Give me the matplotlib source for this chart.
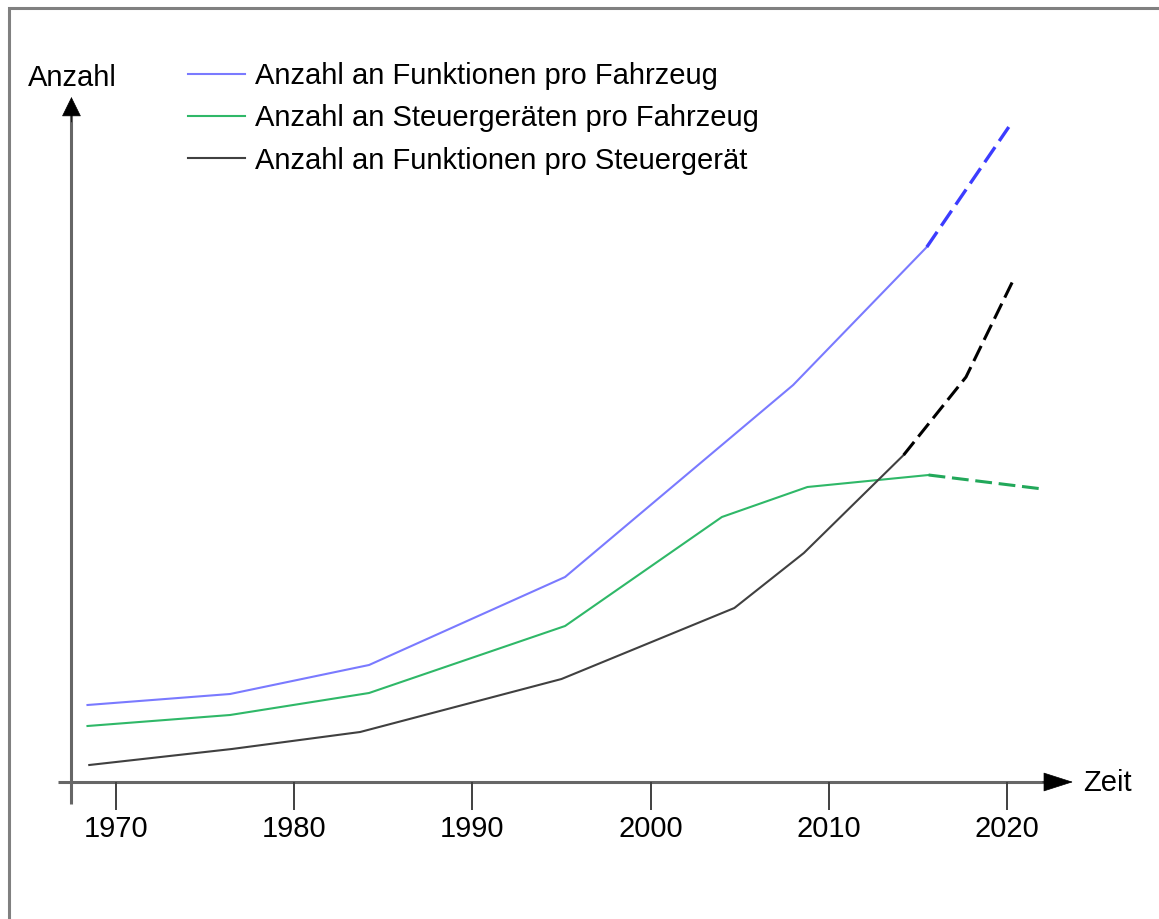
import matplotlib
matplotlib.use("Agg")
import matplotlib.pyplot as plt
from matplotlib.patches import Rectangle

plt.rcParams.update({"font.family": ["Liberation Sans", "DejaVu Sans"]})

# Anzahl an Funktionen pro Fahrzeug
blue_years = [1968.4, 1976.4, 1984.2, 1995.2, 2008.0, 2015.5]
blue_vals = [7.7, 8.8, 11.7, 20.5, 39.7, 53.5]
blue_fc_years = [2015.5, 2020.1]
blue_fc_vals = [53.5, 65.5]

# Anzahl an Steuergeräten pro Fahrzeug
green_years = [1968.4, 1976.4, 1984.2, 1995.2, 2004.0, 2008.8, 2015.6]
green_vals = [5.6, 6.7, 8.9, 15.6, 26.5, 29.5, 30.7]
green_fc_years = [2015.6, 2022.0]
green_fc_vals = [30.7, 29.3]

# Anzahl an Funktionen pro Steuergerät
black_years = [1968.5, 1976.5, 1983.7, 1995.0, 2004.7, 2008.6, 2014.2]
black_vals = [1.7, 3.3, 5.0, 10.3, 17.4, 22.9, 32.7]
black_fc_years = [2014.2, 2017.7, 2020.3]
black_fc_vals = [32.7, 40.5, 50.0]

tick_years = [1970, 1980, 1990, 2000, 2010, 2020]
labels = [
    "Anzahl an Funktionen pro Fahrzeug",
    "Anzahl an Steuergeräten pro Fahrzeug",
    "Anzahl an Funktionen pro Steuergerät",
]

fig = plt.figure(figsize=(11.59, 9.19), dpi=100)
ax = fig.add_axes([0, 0, 1, 1])
ax.set_xlim(1963.49, 2028.53)
ax.set_ylim(-13.7, 78.2)
ax.axis("off")

# frame around the picture
fig.patches.append(
    Rectangle((9 / 1159, -0.1), 1.2, (919 - 8) / 919 + 0.1,
              transform=fig.transFigure, fill=False, ec="#808080", lw=2.2)
)

fs = 21
dash = (0, (5.5, 2.2))

l1, = ax.plot(blue_years, blue_vals, color="#7a7aff", lw=1.5, label=labels[0])
ax.plot(blue_fc_years, blue_fc_vals, color="#3c3cff", lw=2.4, linestyle=dash)
l2, = ax.plot(green_years, green_vals, color="#2fb868", lw=1.5, label=labels[1])
ax.plot(green_fc_years, green_fc_vals, color="#22a85a", lw=2.2, linestyle=dash)
l3, = ax.plot(black_years, black_vals, color="#404040", lw=1.5, label=labels[2])
ax.plot(black_fc_years, black_fc_vals, color="black", lw=2.2, linestyle=dash)

# axes with arrows
ax.plot([1966.75, 2022.5], [0, 0], color="#666666", lw=2.2, solid_capstyle="butt")
ax.plot([1967.5, 1967.5], [-2.2, 67.5], color="#666666", lw=2.2, solid_capstyle="butt")
ax.annotate("", xy=(2023.7, 0), xytext=(2022.0, 0),
            arrowprops=dict(arrowstyle="-|>,head_length=1.0,head_width=0.32",
                            mutation_scale=20, color="black", lw=0.5,
                            shrinkA=0, shrinkB=0))
ax.annotate("", xy=(1967.5, 68.5), xytext=(1967.5, 66.0),
            arrowprops=dict(arrowstyle="-|>,head_length=0.65,head_width=0.32",
                            mutation_scale=20, color="black", lw=0.5,
                            shrinkA=0, shrinkB=0))

ax.vlines(tick_years, -2.8, 0, color="#404040", lw=1.4)
for y in tick_years:
    ax.text(y, -4.7, str(y), ha="center", va="center", fontsize=fs)

ax.text(1965.06, 70.4, "Anzahl", ha="left", va="center", fontsize=fs)
ax.text(2024.26, -0.1, "Zeit", ha="left", va="center", fontsize=fs)

ax.legend(handles=[l1, l2, l3], loc="upper left",
          bbox_to_anchor=(188 / 1159, 1 - 62 / 919), bbox_transform=fig.transFigure,
          frameon=False, fontsize=fs, handlelength=1.95, handletextpad=0.34,
          labelspacing=0.49, borderpad=0, borderaxespad=0)

fig.savefig("out.png", dpi=100)
